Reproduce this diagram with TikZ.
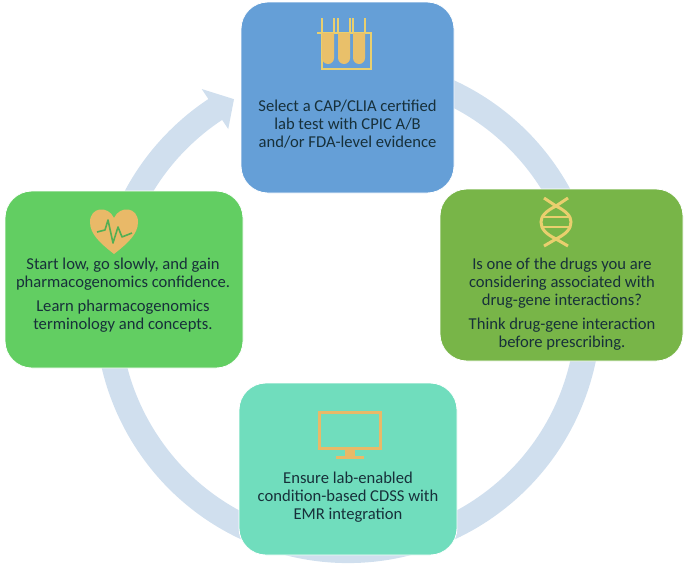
\documentclass[tikz,border=0pt]{standalone}
\usepackage{fontspec}
\setmainfont{Carlito}
\usetikzlibrary{calc}
\definecolor{ringblue}{HTML}{D0DFEE}
\definecolor{labblue}{HTML}{659FD7}
\definecolor{dnagreen}{HTML}{78B548}
\definecolor{heartgreen}{HTML}{62CE62}
\definecolor{cdssteal}{HTML}{70DDBD}
\definecolor{inkdark}{HTML}{17303A}
\definecolor{tubeyellow}{HTML}{E9CF6E}
\definecolor{iconorange}{HTML}{E9B968}
\tikzset{
	card/.style={
		rounded corners=27pt,
		inner sep=0pt,
		draw=white,
		line width=0.8pt
	},
	cardtext/.style={
		align=center,
		text=inkdark,
		font=\fontsize{16.6}{18}\selectfont
	}
}

\begin{document}
\begin{tikzpicture}[x=1pt, y=1pt]
\useasboundingbox (0, 0) rectangle (685, -568);
\coordinate (ringc) at (348, -310);
\coordinate (headout) at ($(ringc)+(123.5:265)$);
\coordinate (headtip) at ($(ringc)+(118.4:239.7)$);
\coordinate (headin) at ($(ringc)+(123.5:217)$);
\fill[ringblue] ($(ringc)+(70:253)$) arc[start angle=70, end angle=-236.5, radius=253pt]
	-- (headout) -- (headtip) -- (headin)
	-- ($(ringc)+(123.5:228)$) arc[start angle=-236.5, end angle=70, radius=228pt] -- cycle;

\node[card, fill=labblue, minimum width=213pt, minimum height=191pt] (lab) at (347.5, -97.5) {};
\node[card, fill=dnagreen, minimum width=243pt, minimum height=172pt] (dna) at (561.5, -275) {};
\node[card, fill=heartgreen, minimum width=238pt, minimum height=177pt] (heart) at (124, -279.5) {};
\node[card, fill=cdssteal, minimum width=218pt, minimum height=172pt] (cdss) at (348, -469) {};

\node[cardtext] (labtext) at (347.5, -124) {Select a CAP/CLIA certified\\lab test with CPIC A/B\\and/or FDA-level evidence};
\node[cardtext] (dnatext) at (562, -304) {Is one of the drugs you are\\considering associated with\\drug-gene interactions?\\[6pt]Think drug-gene interaction\\before prescribing.};
\node[cardtext] (hearttext) at (123, -295) {Start low, go slowly, and gain\\pharmacogenomics confidence.\\[6pt]Learn pharmacogenomics\\terminology and concepts.};
\node[cardtext] (cdsstext) at (348, -497) {Ensure lab-enabled\\condition-based CDSS with\\EMR integration};

% test tubes
\draw[tubeyellow, line width=2.2pt] (317, -33) -- (372, -33);
\draw[tubeyellow, line width=2.2pt] (322, -33) -- (322, -69) -- (371, -69) -- (371, -33);
\foreach \x in {328, 344, 359} {
	\fill[iconorange!70!tubeyellow] (\x-6, -33) -- (\x-6, -58) arc[start angle=180, end angle=360, radius=6pt] -- (\x+6, -33) -- cycle;
	\draw[tubeyellow, line width=1.4pt] (\x-6, -18) -- (\x-6, -33) (\x+6, -18) -- (\x+6, -33);
}

% heart
\fill[iconorange] (114, -254) .. controls (100, -243) and (90, -234) .. (90, -222)
	.. controls (90, -207) and (108, -205) .. (114, -218)
	.. controls (120, -205) and (138, -207) .. (138, -222)
	.. controls (138, -234) and (128, -243) .. (114, -254) -- cycle;
\draw[heartgreen!85!black, line width=1.6pt, line join=round] (97, -232) -- (105, -230) -- (108, -220) -- (113, -243) -- (118, -227) -- (122, -237) -- (132, -233);

% dna
\draw[tubeyellow, line width=3pt] (544, -198) -- (556, -206) .. controls (566, -211) and (571, -216) .. (571, -222) .. controls (571, -229) and (566, -234) .. (556, -239) -- (544, -246);
\draw[tubeyellow, line width=3pt] (568, -198) -- (556, -206) .. controls (546, -211) and (541, -216) .. (541, -222) .. controls (541, -229) and (546, -234) .. (556, -239) -- (568, -246);
\foreach \y in {217, 227} {
	\draw[tubeyellow, line width=2.4pt] (543, -\y) -- (569, -\y);
}

% monitor
\draw[iconorange, line width=3pt] (319, -412) rectangle (380, -448);
\fill[iconorange] (345, -449) rectangle (355, -456);
\draw[iconorange, line width=3pt] (336, -457) -- (364, -457);
\end{tikzpicture}
\end{document}
